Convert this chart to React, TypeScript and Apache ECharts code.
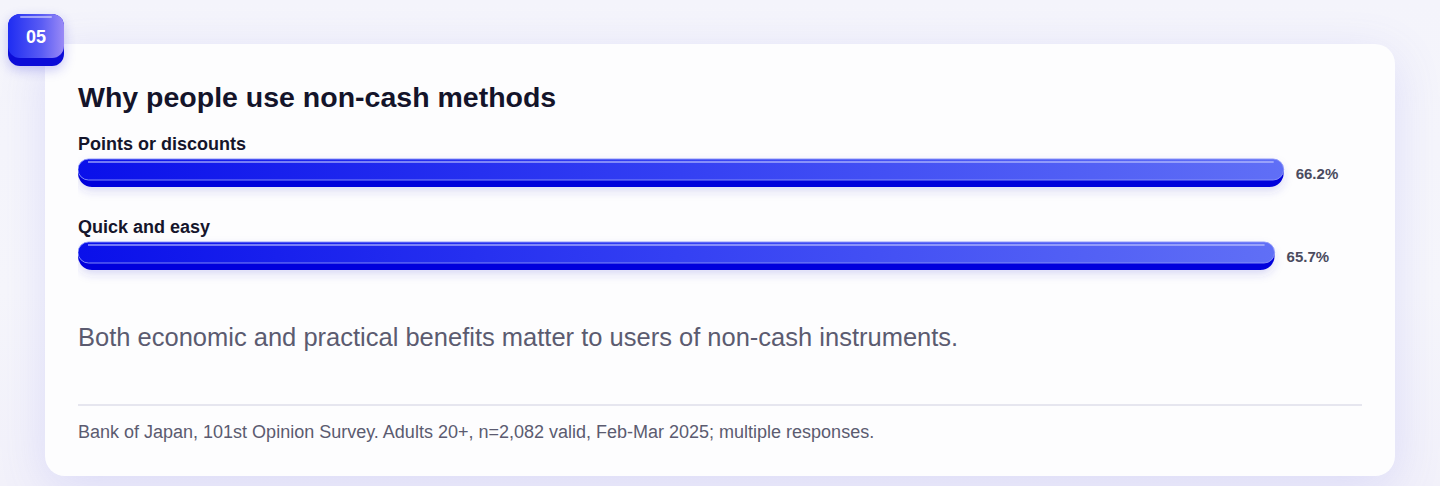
import { useEffect, useRef } from "react";
import * as echarts from "echarts";

const categories = ["Points or discounts", "Quick and easy"];
const shares = [66.2, 65.7];
const axisMax = 70.5;

const FONT = '"Liberation Sans", Arial, Helvetica, sans-serif';

function ReasonBars() {
  const chartRef = useRef<HTMLDivElement | null>(null);

  useEffect(() => {
    const el = chartRef.current;
    if (!el) return;
    const chart = echarts.init(el, null, { renderer: "svg" });

    const rows = shares.map((v, i) => [v, i, categories[i]]);

    chart.setOption({
      animation: false,
      grid: { left: 0, width: 1284, top: 31.5, height: 166 },
      xAxis: { type: "value", min: 0, max: axisMax, show: false },
      yAxis: { type: "category", data: categories, inverse: true, show: false },
      series: [
        {
          type: "custom",
          data: rows,
          encode: { x: 0, y: 1 },
          clip: false,
          renderItem: (_params: any, api: any) => {
            const v = api.value(0);
            const idx = api.value(1);
            const start = api.coord([0, idx]);
            const end = api.coord([v, idx]);
            const x0 = start[0];
            const x1 = end[0];
            const cy = start[1];
            const w = x1 - x0;
            return {
              type: "group",
              children: [
                {
                  type: "rect",
                  shape: { x: x0, y: cy - 14, width: w, height: 28, r: 14 },
                  style: {
                    fill: "#0606dc",
                    shadowBlur: 10,
                    shadowOffsetY: 4,
                    shadowColor: "rgba(60,60,200,0.18)"
                  }
                },
                {
                  type: "rect",
                  shape: { x: x0, y: cy - 14, width: w, height: 21, r: 10.5 },
                  style: {
                    fill: new echarts.graphic.LinearGradient(0, 0, 1, 0, [
                      { offset: 0, color: "#0a10ea" },
                      { offset: 0.5, color: "#3440f3" },
                      { offset: 1, color: "#606ff6" }
                    ]),
                    stroke: "rgba(140,150,250,0.9)",
                    lineWidth: 1
                  }
                },
                {
                  type: "line",
                  shape: { x1: x0 + 10, y1: cy - 11, x2: x1 - 10, y2: cy - 11 },
                  style: { stroke: "rgba(200,205,255,0.55)", lineWidth: 2 }
                },
                {
                  type: "text",
                  x: x0,
                  y: cy - 29,
                  style: {
                    text: api.value(2),
                    font: `bold 18px ${FONT}`,
                    fill: "#15152b",
                    verticalAlign: "middle",
                    align: "left"
                  }
                },
                {
                  type: "text",
                  x: x1 + 12,
                  y: cy,
                  style: {
                    text: `${v}%`,
                    font: `bold 15px ${FONT}`,
                    fill: "#4b4b5e",
                    verticalAlign: "middle",
                    align: "left"
                  }
                }
              ]
            };
          }
        }
      ]
    });

    return () => chart.dispose();
  }, []);

  return (
    <div
      ref={chartRef}
      style={{ position: "absolute", left: 78, top: 100, width: 1300, height: 200 }}
    />
  );
}

export default function App() {
  return (
    <div
      style={{
        position: "fixed",
        inset: 0,
        width: 1440,
        height: 486,
        overflow: "hidden",
        fontFamily: FONT,
        background: "linear-gradient(180deg, #f4f4fb 0%, #f6f6fb 60%, #f2f1fa 100%)"
      }}
    >
      {/* card */}
      <div
        style={{
          position: "absolute",
          left: 45,
          top: 44,
          width: 1350,
          height: 432,
          borderRadius: 20,
          background: "#fdfdfe",
          boxShadow: "0 12px 48px rgba(100, 100, 235, 0.16)"
        }}
      />
      {/* badge */}
      <div
        style={{
          position: "absolute",
          left: 8,
          top: 14,
          width: 56,
          height: 52,
          borderRadius: 12,
          background: "#0c0cd8",
          boxShadow: "0 4px 12px rgba(40, 40, 220, 0.25)"
        }}
      >
        <div
          style={{
            position: "absolute",
            left: 0,
            top: 0,
            width: 56,
            height: 44,
            borderRadius: 12,
            background: "linear-gradient(90deg, #1e2cf2 0%, #5a5cf4 60%, #9a8af6 100%)",
            color: "#ffffff",
            fontWeight: 700,
            fontSize: 18,
            lineHeight: "47px",
            textAlign: "center"
          }}
        >
          05
        </div>
        <div
          style={{
            position: "absolute",
            left: 12,
            top: 2,
            width: 32,
            height: 2,
            borderRadius: 1,
            background: "rgba(220,220,255,0.6)"
          }}
        />
      </div>
      <div
        style={{
          position: "absolute",
          left: 78,
          top: 83,
          fontSize: 28.5,
          lineHeight: "28.5px",
          fontWeight: 700,
          color: "#14142a",
          whiteSpace: "nowrap"
        }}
      >
        Why people use non-cash methods
      </div>
      <ReasonBars />
      <div
        style={{
          position: "absolute",
          left: 78,
          top: 325,
          fontSize: 25.5,
          lineHeight: "25.5px",
          color: "#5b5b70",
          whiteSpace: "nowrap"
        }}
      >
        Both economic and practical benefits matter to users of non-cash instruments.
      </div>
      <div
        style={{
          position: "absolute",
          left: 78,
          top: 404,
          width: 1284,
          height: 2,
          background: "#e6e6ef"
        }}
      />
      <div
        style={{
          position: "absolute",
          left: 78,
          top: 423,
          fontSize: 18,
          lineHeight: "18px",
          color: "#5b5b70",
          whiteSpace: "nowrap"
        }}
      >
        Bank of Japan, 101st Opinion Survey. Adults 20+, n=2,082 valid, Feb-Mar 2025; multiple responses.
      </div>
    </div>
  );
}
